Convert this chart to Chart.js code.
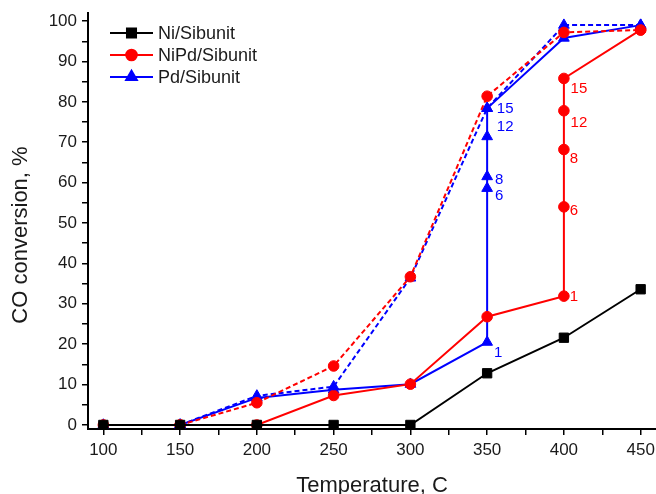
<!DOCTYPE html>
<html>
<head>
<meta charset="utf-8">
<script src="https://cdn.jsdelivr.net/npm/chart.js@4/dist/chart.umd.min.js"></script>
<style>
html,body{margin:0;padding:0;background:#fff;overflow:hidden;}
#wrap{width:656px;height:494px;position:relative;}
canvas{display:block;}
</style>
</head>
<body>
<div id="wrap"><canvas id="c" width="656" height="494"></canvas></div>
<script>
// ---- data ----
const seriesNames = ['Ni/Sibunit', 'NiPd/Sibunit', 'Pd/Sibunit'];

const niT   = [100, 150, 200, 250, 300, 350, 400, 450];
const niY   = [0, 0, 0, 0, 0, 12.8, 21.6, 33.6];

const nipdT = [100, 150, 200, 250, 300, 350, 400, 400, 400, 400, 400, 450];
const nipdY = [0, 0, 0, 7.3, 10.1, 26.8, 31.9, 54.0, 68.2, 77.8, 85.8, 97.8];

const nipdDashT = [150, 200, 250, 300, 350, 400, 450];
const nipdDashY = [0, 5.5, 14.6, 36.7, 81.4, 97.2, 97.8];

const pdT   = [100, 150, 200, 250, 300, 350, 350, 350, 350, 350, 400, 450];
const pdY   = [0, 0, 6.7, 8.7, 10.1, 20.5, 58.6, 61.5, 71.4, 78.4, 95.8, 99.0];

const pdDashT = [150, 200, 250, 300, 350, 400, 450];
const pdDashY = [0, 7.2, 9.5, 36.4, 78.4, 99.0, 99.0];

// point annotations (time labels) : [temperature, conversion, text]
const pdNotes   = [[350, 20.5, '1'], [350, 58.6, '6'], [350, 61.5, '8'], [350, 71.4, '12'], [350, 78.4, '15']];
const nipdNotes = [[400, 31.9, '1'], [400, 54.0, '6'], [400, 68.2, '8'], [400, 77.8, '12'], [400, 85.8, '15']];

const xTicks = [100, 125, 150, 175, 200, 225, 250, 275, 300, 325, 350, 375, 400, 425, 450];
const yTicks = [0, 5, 10, 15, 20, 25, 30, 35, 40, 45, 50, 55, 60, 65, 70, 75, 80, 85, 90, 95, 100];

const xTitle = 'Temperature, C';
const yTitle = 'CO conversion, %';

// ---- styles ----
const FONT = "'Liberation Sans', Arial, sans-serif";
const TXT = '#1a1a1a';
const RED = '#ff0000', BLUE = '#0000ff', BLACK = '#000000';
const AREA = {left: 88, right: 656, top: 13, bottom: 429};
// pixel offsets of annotation labels (style only)
const pdNoteOff   = [[11, 11], [12, 8], [12, 3], [18, -10], [18, 1]];
const nipdNoteOff = [[10, 1], [10, 4], [10, 9], [15, 12], [15, 10]];

const pts = (xs, ys) => xs.map((x, i) => ({x: x, y: ys[i]}));

function ds(label, xs, ys, color, style, radius, dashed) {
  return {
    label: label,
    data: pts(xs, ys),
    showLine: true,
    borderColor: color,
    backgroundColor: color,
    borderWidth: 2,
    borderDash: dashed ? [5, 3] : [],
    pointStyle: style,
    pointRadius: radius,
    pointHoverRadius: radius,
    pointBorderWidth: 1,
    pointBorderColor: color,
    pointBackgroundColor: color,
    tension: 0,
    fill: false
  };
}

const datasets = [
  ds(seriesNames[0], niT, niY, BLACK, 'rect', 6.6, false),
  ds(seriesNames[1] + ' dashed', nipdDashT, nipdDashY, RED, 'circle', 5.3, true),
  ds(seriesNames[2] + ' dashed', pdDashT, pdDashY, BLUE, 'triangle', 6.2, true),
  ds(seriesNames[1], nipdT, nipdY, RED, 'circle', 5.3, false),
  ds(seriesNames[2], pdT, pdY, BLUE, 'triangle', 6.2, false)
];

const legendItems = [
  {name: seriesNames[0], color: BLACK, style: 'rect', r: 6.4},
  {name: seriesNames[1], color: RED, style: 'circle', r: 5.3},
  {name: seriesNames[2], color: BLUE, style: 'triangle', r: 6.2}
];

const fixArea = {
  id: 'fixArea',
  afterLayout(chart) {
    const a = chart.chartArea, x = chart.scales.x, y = chart.scales.y;
    a.left = AREA.left; a.right = AREA.right; a.top = AREA.top; a.bottom = AREA.bottom;
    a.width = a.right - a.left; a.height = a.bottom - a.top;
    x.left = AREA.left; x.right = AREA.right; x.width = x.right - x.left;
    x.configure();
    y.top = AREA.top; y.bottom = AREA.bottom; y.height = y.bottom - y.top;
    y.configure();
  }
};

const extras = {
  id: 'extras',
  afterDatasetsDraw(chart) {
    const ctx = chart.ctx;
    const xs = chart.scales.x, ys = chart.scales.y;
    ctx.save();
    // annotations
    ctx.font = '15px ' + FONT;
    ctx.textAlign = 'center';
    ctx.textBaseline = 'middle';
    const drawNotes = (notes, offs, color) => {
      ctx.fillStyle = color;
      notes.forEach((n, i) => {
        const px = xs.getPixelForValue(n[0]) + offs[i][0];
        const py = ys.getPixelForValue(n[1]) + offs[i][1];
        ctx.fillText(n[2], px, py);
      });
    };
    drawNotes(pdNotes, pdNoteOff, BLUE);
    drawNotes(nipdNotes, nipdNoteOff, RED);

    // legend
    const lx0 = 110, lx1 = 153, lyRows = [33, 55, 77];
    ctx.font = '18px ' + FONT;
    ctx.textAlign = 'left';
    legendItems.forEach((it, i) => {
      const y = lyRows[i];
      ctx.strokeStyle = it.color;
      ctx.lineWidth = 2;
      ctx.setLineDash([]);
      ctx.beginPath();
      ctx.moveTo(lx0, y);
      ctx.lineTo(lx1, y);
      ctx.stroke();
      ctx.fillStyle = it.color;
      Chart.helpers.drawPoint(ctx, {pointStyle: it.style, radius: it.r, borderWidth: 1}, (lx0 + lx1) / 2, y);
      ctx.fill();
      ctx.fillStyle = TXT;
      ctx.fillText(it.name, 158, y + 1);
    });

    // axis titles
    ctx.fillStyle = TXT;
    ctx.font = '22px ' + FONT;
    ctx.textAlign = 'center';
    ctx.textBaseline = 'middle';
    ctx.fillText(xTitle, 372, 486);
    ctx.save();
    ctx.translate(21, 235);
    ctx.rotate(-Math.PI / 2);
    ctx.fillText(yTitle, 0, 0);
    ctx.restore();
    ctx.restore();
  }
};

const tickFont = {family: FONT, size: 17};

new Chart(document.getElementById('c'), {
  type: 'scatter',
  data: {datasets: datasets},
  plugins: [fixArea, extras],
  options: {
    responsive: false,
    animation: false,
    devicePixelRatio: 1,
    layout: {padding: {top: 13, left: 0, right: 0, bottom: 0}},
    plugins: {legend: {display: false}, tooltip: {enabled: false}},
    scales: {
      x: {
        type: 'linear',
        min: 90, max: 460,
        afterBuildTicks: s => { s.ticks = xTicks.map(v => ({value: v})); },
        afterFit: s => { s.height = 65; },
        ticks: {
          autoSkip: false, maxRotation: 0, padding: 5, color: TXT, font: tickFont,
          callback: v => (v % 50 === 0 ? String(v) : '')
        },
        grid: {display: true, drawOnChartArea: false, drawTicks: true, tickLength: 6, color: BLACK, lineWidth: 1.5},
        border: {display: true, color: BLACK, width: 2}
      },
      y: {
        type: 'linear',
        min: -1, max: 102,
        afterBuildTicks: s => { s.ticks = yTicks.map(v => ({value: v})); },
        afterFit: s => { s.width = 88; },
        ticks: {
          autoSkip: false, padding: 5, color: TXT, font: tickFont,
          callback: v => (v % 10 === 0 ? String(v) : '')
        },
        grid: {display: true, drawOnChartArea: false, drawTicks: true, tickLength: 6, color: BLACK, lineWidth: 1.5},
        border: {display: true, color: BLACK, width: 2}
      }
    }
  }
});
</script>
</body>
</html>
